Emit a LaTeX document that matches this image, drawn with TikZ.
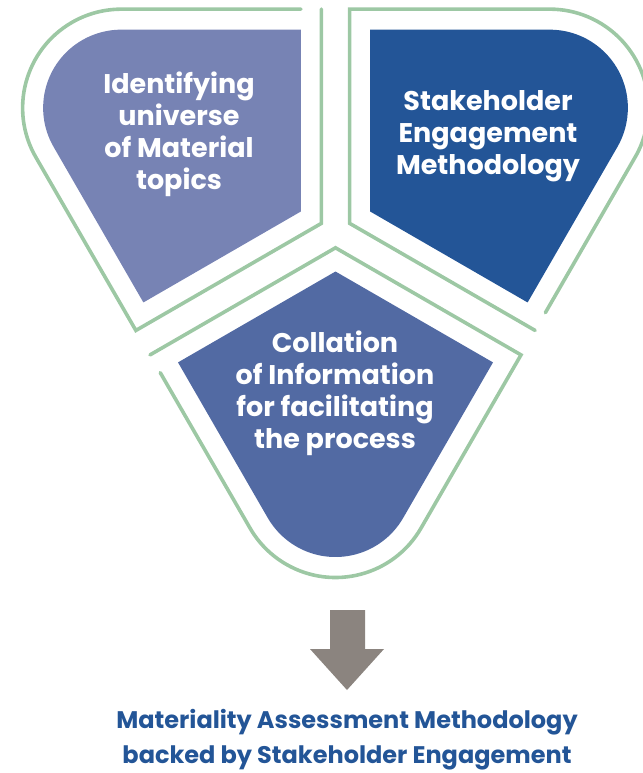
\documentclass[tikz,border=0pt]{standalone}
\usepackage{fontspec}
\setmainfont{Poppins}
\usepackage{xcolor}
\usetikzlibrary{calc, positioning}

\definecolor{lavender}{HTML}{7783B4}
\definecolor{deepblue}{HTML}{235597}
\definecolor{midblue}{HTML}{526AA3}
\definecolor{rimgreen}{HTML}{9DC8A4}
\definecolor{arrowgrey}{HTML}{8B847F}

\tikzset{
  rim/.style={draw=rimgreen, line width=3.6pt, line cap=round},
  petaltext/.style={text=white, align=center, anchor=base,
    font=\bfseries\fontsize{27}{32}\selectfont, inner sep=0pt},
  captiontext/.style={text=deepblue, align=center, anchor=base,
    font=\bfseries\fontsize{24}{35}\selectfont, inner sep=0pt}
}

\begin{document}
\begin{tikzpicture}[x=1pt,y=1pt]
    \useasboundingbox (0,0) rectangle (642,-773);
    % centre of the three petals
    \coordinate (C) at (335.5,-231.5);

    % three petals, one shape turned round the centre
    \foreach \rot/\col in {0/midblue, 120/deepblue, -120/lavender} {
        \begin{scope}[shift={(C)}, rotate=\rot]
            % filled petal
            \fill[\col] (0,-40) -- (157.5,-130.9) -- (67.7,-286.4)
                arc[start angle=-30, end angle=-150, radius=78.2]
                -- (-157.5,-130.9) -- cycle;
            % open green rim, gap at one corner
            \draw[rim] (-185.5,-123.4) -- (0,-16.3) -- (185.5,-123.4)
                -- (85.5,-296.65)
                arc[start angle=-30, end angle=-150, radius=98.7]
                -- (-175.25,-141.15);
        \end{scope}
    }

    % petal texts (base = last line)
    \node[petaltext] (ident) at (179,-189) {Identifying\\universe\\of Material\\topics};
    \node[petaltext] (stake) at (488,-174) {Stakeholder\\Engagement\\Methodology};
    \node[petaltext] (coll) at (335,-448) {Collation\\of Information\\for facilitating\\the process};

    % down arrow
    \fill[arrowgrey] (330,-610) -- (365,-610) -- (365,-649) -- (384,-649)
        -- (347,-690) -- (310,-649) -- (330,-649) -- cycle;

    % result
    \node[captiontext] (result) at (347,-763) {Materiality Assessment Methodology\\backed by Stakeholder Engagement};
\end{tikzpicture}
\end{document}
